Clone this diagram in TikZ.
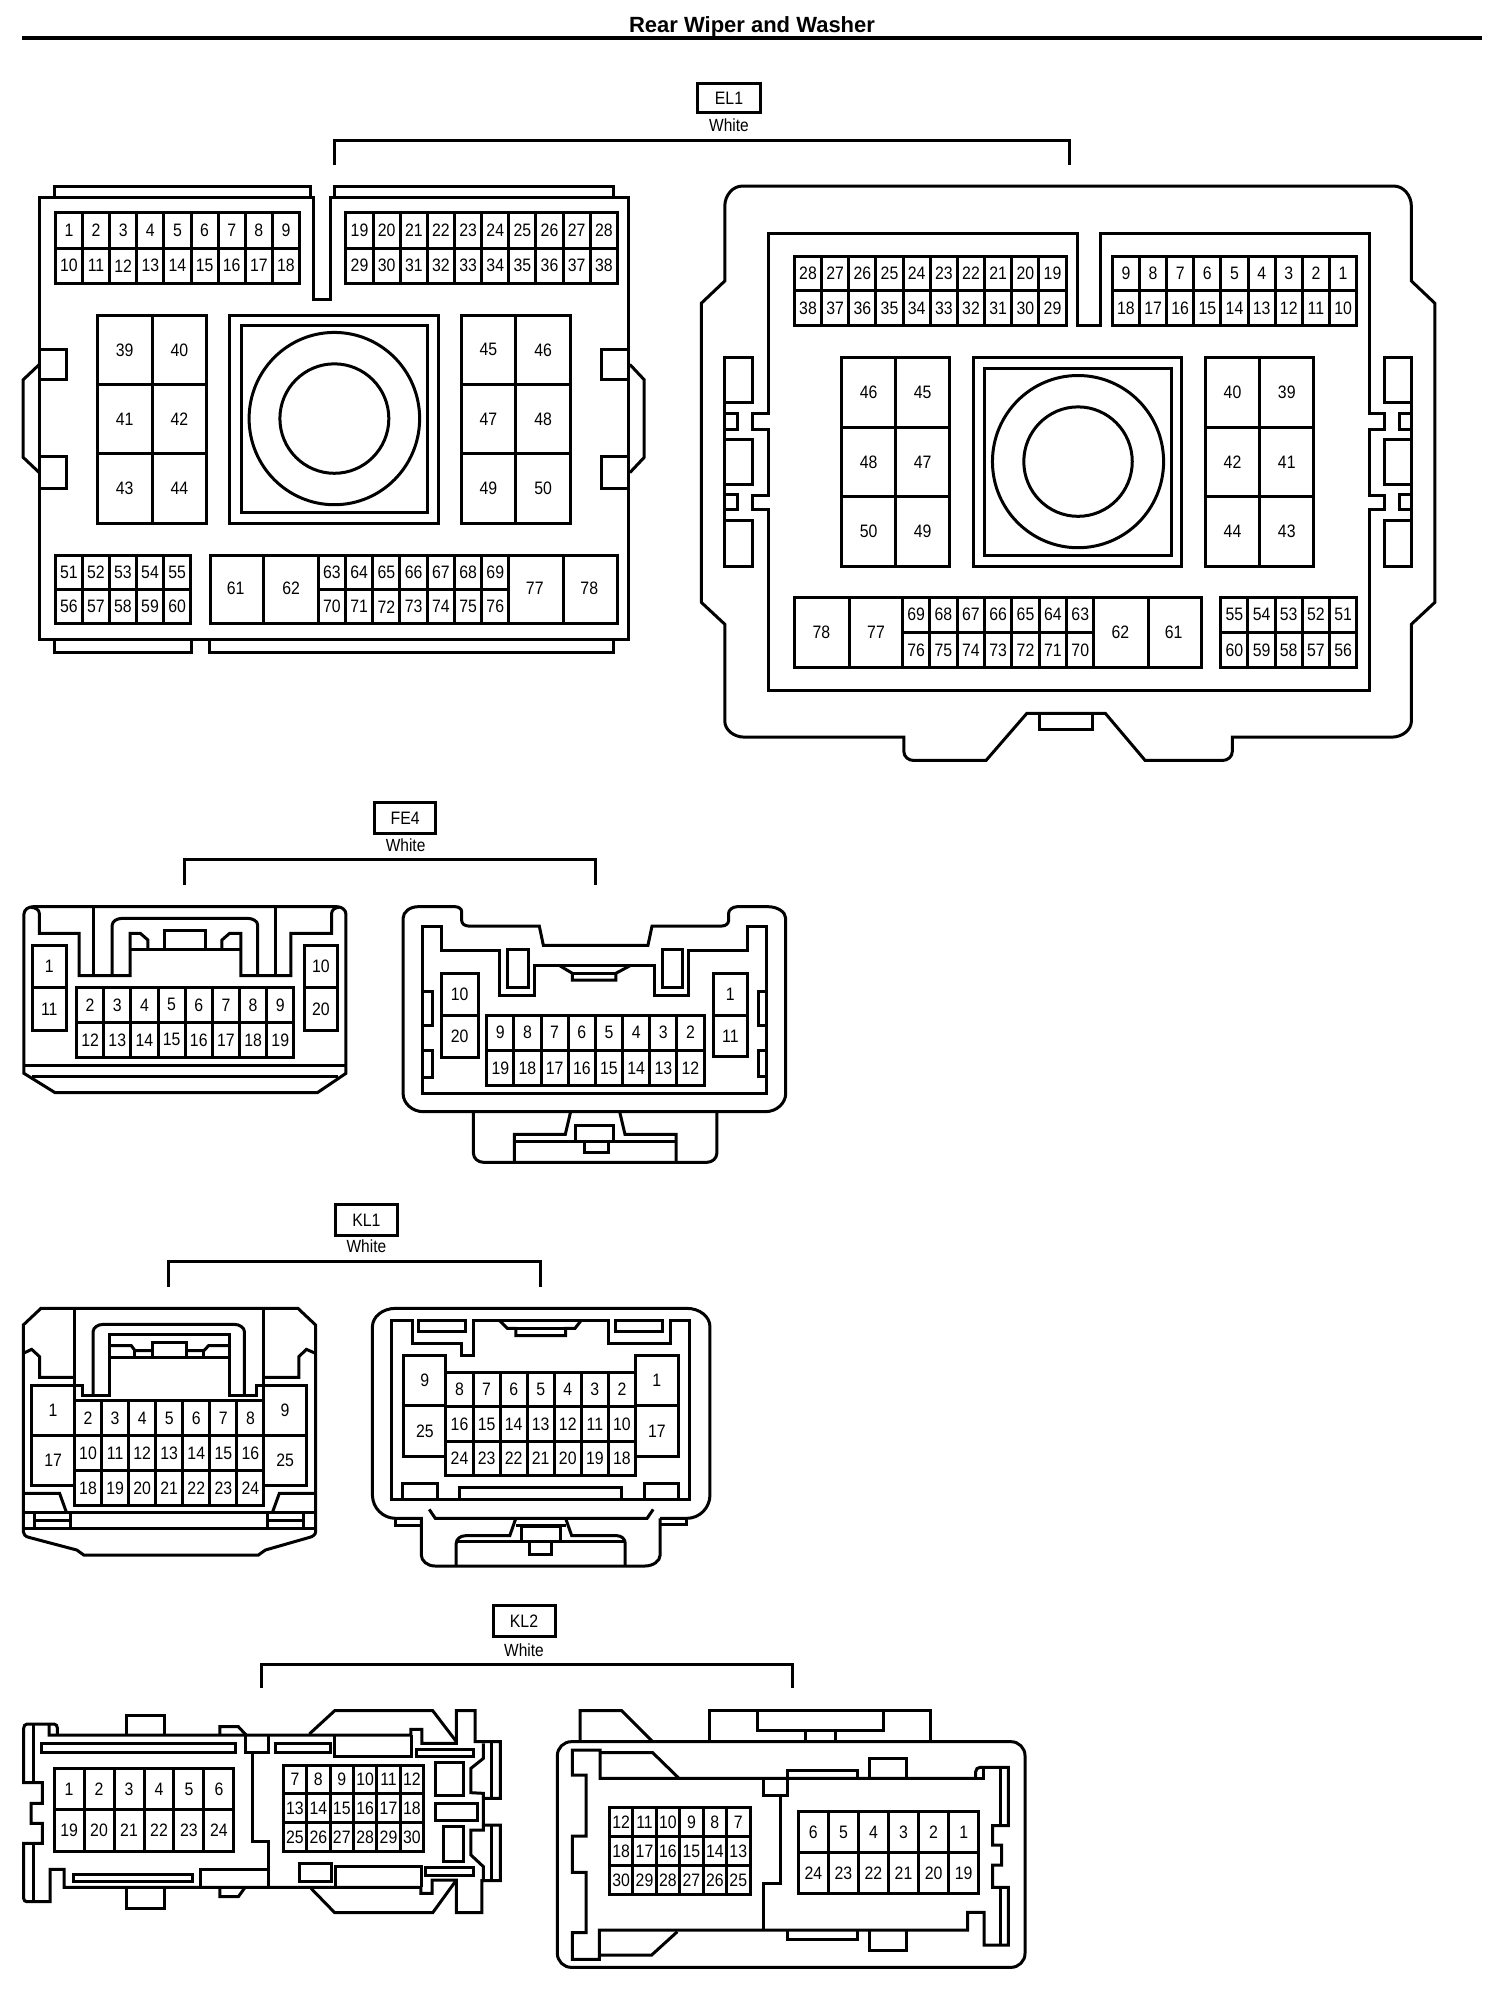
\documentclass[tikz,border=0pt]{standalone}
\usepackage{fontspec}
\setmainfont[FakeStretch=0.88]{Liberation Sans}
\newfontfamily\titlefont{Liberation Sans}
\newcommand\cellgrid[8]{%
  \draw (#2,#4) rectangle (#3,#5);
  \pgfmathtruncatemacro\cgcols{#6-1}%
  \pgfmathtruncatemacro\cgrows{#7-1}%
  \foreach \i in {1,...,\cgcols}{\draw ({#2+\i*(#3-#2)/#6},#4) -- ({#2+\i*(#3-#2)/#6},#5);}
  \foreach \i in {1,...,\cgrows}{\draw (#2,{#4+\i*(#5-#4)/#7}) -- (#3,{#4+\i*(#5-#4)/#7});}
  \foreach \t [count=\k from 0] in {#8}{%
    \pgfmathtruncatemacro\cgc{mod(\k,#6)}%
    \pgfmathtruncatemacro\cgr{floor(\k/#6)}%
    \node[pin] (#1-\t) at ({#2+(\cgc+.5)*(#3-#2)/#6},{#4+(\cgr+.5)*(#5-#4)/#7}) {\t};
  }}
\tikzset{
  pin/.style={inner sep=0pt,font=\fontsize{9}{9}\selectfont},
  tagbox/.style={draw,inner sep=0pt,font=\fontsize{9}{9}\selectfont},
  colour/.style={inner sep=0pt,font=\fontsize{8.8}{9}\selectfont},
}
\begin{document}
\begin{tikzpicture}[x=0.5pt,y=-0.5pt,line width=1.5pt,line join=miter,line cap=butt]
\useasboundingbox (0,0) rectangle (1504,1990);
% title
\node[inner sep=0pt] (title) at (752,27) {\fontsize{11}{12}\selectfont\titlefont\bfseries Rear Wiper and Washer};
\draw[line width=2pt] (22,38) -- (1482,38);
% tags
\node[tagbox,minimum width=31.5pt,minimum height=14.5pt] (tagEL) at (729,98) {EL1};
\node[colour] (whiteEL) at (729,125) {White};
\draw (334,165) -- (334,141) -- (1069,141) -- (1069,165);

%% ===== EL1 left =====
\begin{scope}[shift={(0,150)},x=0.22321pt,y=-0.16892pt]
\draw (88,142) -- (703,142) -- (703,442) -- (741,442) -- (741,142) -- (1408,142) -- (1408,1450) -- (88,1450) -- cycle;
\draw (123,142) -- (123,108) -- (695,108) -- (695,142);
\draw (749,142) -- (749,108) -- (1375,108) -- (1375,142);
\draw (123,1450) -- (123,1487) -- (428,1487) -- (428,1450);
\draw (470,1450) -- (470,1487) -- (1375,1487) -- (1375,1450);
\draw (88,590) -- (150,590) -- (150,680) -- (88,680);
\draw (88,908) -- (150,908) -- (150,1003) -- (88,1003);
\draw (1408,592) -- (1347,592) -- (1347,680) -- (1408,680);
\draw (1408,908) -- (1347,908) -- (1347,1003) -- (1408,1003);
\draw (88,635) -- (52,680) -- (52,910) -- (88,955);
\draw (1411,635) -- (1443,680) -- (1443,910) -- (1411,955);
\cellgrid{ela}{124}{671}{186}{395}{9}{2}{1,2,3,4,5,6,7,8,9,10,11,12,13,14,15,16,17,18}
\cellgrid{ela}{775}{1383}{186}{395}{10}{2}{19,20,21,22,23,24,25,26,27,28,29,30,31,32,33,34,35,36,37,38}
\cellgrid{ela}{218}{463}{489}{1105}{2}{3}{39,40,41,42,43,44}
\cellgrid{ela}{1033}{1278}{489}{1105}{2}{3}{45,46,47,48,49,50}
\draw (514,489) rectangle (983,1105);
\draw (541,519) rectangle (958,1073);
\draw (749,795) ellipse [x radius=191,y radius=255];
\draw (749,795) ellipse [x radius=122,y radius=162];
\cellgrid{ela}{124}{427}{1199}{1403}{5}{2}{51,52,53,54,55,56,57,58,59,60}
\draw (471,1199) rectangle (1383,1403);
\draw (590,1199) -- (590,1403);
\draw (1263,1199) -- (1263,1403);
\cellgrid{ela}{713}{1140}{1199}{1403}{7}{2}{63,64,65,66,67,68,69,70,71,72,73,74,75,76}
\node[pin] (ela-61) at (528,1298) {61};
\node[pin] (ela-62) at (652,1298) {62};
\node[pin] (ela-77) at (1198,1298) {77};
\node[pin] (ela-78) at (1320,1298) {78};
\end{scope}

%% ===== EL1 right =====
\begin{scope}[shift={(680,170)},x=0.24876pt,y=-0.19135pt]
\draw (125,42) -- (1435,42) .. controls (1454,42) and (1470,66) .. (1470,95) -- (1470,290) -- (1517,348) -- (1517,1130) -- (1470,1187) -- (1470,1440) .. controls (1470,1463) and (1452,1482) .. (1430,1482) -- (1110,1482) -- (1110,1520) .. controls (1110,1533) and (1101,1543) .. (1090,1543) -- (935,1543) -- (855,1420) -- (697,1420) -- (615,1543) -- (470,1543) .. controls (459,1543) and (450,1533) .. (450,1520) -- (450,1482) -- (130,1482) .. controls (108,1482) and (90,1463) .. (90,1440) -- (90,1187) -- (43,1130) -- (43,348) -- (90,290) -- (90,95) .. controls (90,66) and (106,42) .. (125,42) -- cycle;
\draw (177,167) -- (799,167) -- (799,406) -- (845,406) -- (845,167) -- (1385,167) -- (1385,635) -- (1415,635) -- (1415,677) -- (1385,677) -- (1385,850) -- (1415,850) -- (1415,888) -- (1385,888) -- (1385,1360) -- (177,1360) -- (177,888) -- (145,888) -- (145,850) -- (177,850) -- (177,677) -- (145,677) -- (145,635) -- (177,635) -- cycle;
\draw (90,490) rectangle (145,608);
\draw (90,703) rectangle (145,823);
\draw (90,915) rectangle (145,1035);
\draw (90,608) -- (90,915);
\draw (90,635) rectangle (115,677);
\draw (90,848) rectangle (115,888);
\draw (1415,490) rectangle (1470,608);
\draw (1415,703) rectangle (1470,823);
\draw (1415,915) rectangle (1470,1035);
\draw (1470,608) -- (1470,915);
\draw (1447,635) rectangle (1470,677);
\draw (1447,848) rectangle (1470,888);
\cellgrid{elb}{230}{776}{225}{406}{10}{2}{28,27,26,25,24,23,22,21,20,19,38,37,36,35,34,33,32,31,30,29}
\cellgrid{elb}{869}{1360}{225}{406}{9}{2}{9,8,7,6,5,4,3,2,1,18,17,16,15,14,13,12,11,10}
\cellgrid{elb}{325}{542}{490}{1036}{2}{3}{46,45,48,47,50,49}
\cellgrid{elb}{1056}{1274}{490}{1036}{2}{3}{40,39,42,41,44,43}
\draw (590,490) rectangle (1008,1036);
\draw (612,519) rectangle (988,1007);
\draw (800,762) ellipse [x radius=172,y radius=225];
\draw (800,762) ellipse [x radius=109,y radius=143];
\draw (230,1116) rectangle (1048,1300);
\draw (340,1116) -- (340,1300);
\draw (941,1116) -- (941,1300);
\cellgrid{elb}{447}{832}{1116}{1300}{7}{2}{69,68,67,66,65,64,63,76,75,74,73,72,71,70}
\node[pin] (elb-78) at (284,1207) {78};
\node[pin] (elb-77) at (394,1207) {77};
\node[pin] (elb-62) at (885,1207) {62};
\node[pin] (elb-61) at (992,1207) {61};
\cellgrid{elb}{1087}{1360}{1116}{1300}{5}{2}{55,54,53,52,51,60,59,58,57,56}
\draw (722,1420) -- (722,1462) -- (830,1462) -- (830,1420);
\end{scope}

%% ===== FE4 =====
\begin{scope}[shift={(0,790)},x=0.25510pt,y=-0.16667pt]
\node[tagbox,minimum width=30.5pt,minimum height=15.5pt] (tagFE) at (794,84) {FE4};
\node[colour] (whiteFE) at (795,165) {White};
\draw (362,285) -- (362,208) -- (1167,208) -- (1167,285);
% left
\draw (65,350) -- (660,350) .. controls (670,350) and (678,360) .. (678,372) -- (678,850) -- (622,908) -- (108,908) -- (47,850) -- (47,372) .. controls (47,360) and (55,350) .. (65,350) -- cycle;
\draw (47,826) -- (678,826);
\draw (62,860) -- (662,860);
\draw (60,352) .. controls (70,352) and (77,360) .. (77,370) -- (77,430) -- (155,430) -- (155,557) -- (255,557) -- (255,430) -- (275,430) -- (290,450) -- (290,478);
\draw (255,478) -- (472,478);
\draw (435,478) -- (435,450) -- (450,430) -- (472,430) -- (472,557) -- (570,557) -- (570,430) -- (650,430) -- (650,370) .. controls (650,360) and (657,352) .. (665,352);
\draw (322,478) -- (322,420) -- (403,420) -- (403,478);
\draw (220,557) -- (220,405) .. controls (220,394) and (229,385) .. (240,385) -- (485,385) .. controls (496,385) and (505,394) .. (505,405) -- (505,557);
\draw (183,350) -- (183,557);
\draw (540,350) -- (540,557);
\cellgrid{fea}{63}{130}{466}{720}{1}{2}{1,11}
\cellgrid{fea}{596}{662}{466}{720}{1}{2}{10,20}
\cellgrid{fea}{150}{576}{592}{802}{8}{2}{2,3,4,5,6,7,8,9,12,13,14,15,16,17,18,19}
% right
\draw (820,350) .. controls (803,350) and (790,366) .. (790,385) -- (790,910) .. controls (790,940) and (808,965) .. (830,965) -- (1500,965) .. controls (1522,965) and (1540,940) .. (1540,910) -- (1540,385) .. controls (1540,366) and (1524,350) .. (1505,350) -- (1445,350) .. controls (1436,350) and (1428,360) .. (1428,370) -- (1428,392) .. controls (1428,401) and (1422,408) .. (1415,408) -- (1278,408) -- (1270,466) -- (1065,466) -- (1057,408) -- (918,408) .. controls (911,408) and (905,401) .. (905,392) -- (905,365) .. controls (905,357) and (899,350) .. (892,350) -- cycle;
\draw (828,408) -- (865,408) -- (865,480) -- (980,480) -- (980,617) -- (1048,617) -- (1048,525) -- (1283,525) -- (1283,617) -- (1350,617) -- (1350,480) -- (1465,480) -- (1465,408) -- (1503,408) -- (1503,910) -- (828,910) -- cycle;
\draw (995,478) rectangle (1035,592);
\draw (1298,478) rectangle (1338,592);
\draw (1097,527) -- (1122,550) -- (1122,570) -- (1207,570) -- (1207,550) -- (1235,527);
\draw (1122,550) -- (1207,550);
\cellgrid{feb}{865}{937}{550}{802}{1}{2}{10,20}
\cellgrid{feb}{1398}{1465}{550}{800}{1}{2}{1,11}
\cellgrid{feb}{954}{1380}{675}{887}{8}{2}{9,8,7,6,5,4,3,2,19,18,17,16,15,14,13,12}
\draw (830,605) -- (847,605) -- (847,707) -- (830,707);
\draw (830,780) -- (847,780) -- (847,862) -- (830,862);
\draw (1503,605) -- (1487,605) -- (1487,707) -- (1503,707);
\draw (1503,782) -- (1487,782) -- (1487,860) -- (1503,860);
\draw (928,965) -- (928,1090) .. controls (928,1105) and (937,1117) .. (948,1117) -- (1385,1117) .. controls (1396,1117) and (1405,1105) .. (1405,1090) -- (1405,965);
\draw (1008,1117) -- (1008,1033) -- (1108,1033) -- (1118,968);
\draw (1215,968) -- (1225,1033) -- (1325,1033) -- (1325,1117);
\draw (1008,1053) -- (1325,1053);
\draw (1128,1053) -- (1128,1005) -- (1202,1005) -- (1202,1053);
\draw (1145,1053) -- (1145,1088) -- (1192,1088) -- (1192,1053);
\end{scope}

%% ===== KL1 =====
\begin{scope}[shift={(0,1190)},x=0.23277pt,y=-0.16667pt]
\node[tagbox,minimum width=31pt,minimum height=15.5pt] (tagKLa) at (787,90) {KL1};
\node[colour] (whiteKLa) at (787,170) {White};
\draw (363,290) -- (363,215) -- (1162,215) -- (1162,290);
% left
\draw (88,355) -- (640,355) -- (678,405) -- (678,1025) .. controls (678,1033) and (672,1040) .. (665,1042) -- (570,1080) -- (555,1095) -- (180,1095) -- (165,1080) -- (62,1042) .. controls (55,1040) and (50,1033) .. (50,1025) -- (50,405) -- cycle;
\draw (160,358) -- (160,632);
\draw (567,358) -- (567,632);
\draw (50,490) -- (68,478) -- (85,500) -- (85,562) -- (160,562);
\draw (678,490) -- (658,478) -- (642,500) -- (642,562) -- (567,562);
\draw (160,585) -- (178,585) -- (178,617) -- (235,617) -- (235,432) -- (493,432) -- (493,617) -- (552,617) -- (552,585) -- (567,585);
\draw (200,617) -- (200,425) .. controls (200,413) and (210,403) .. (222,403) -- (503,403) .. controls (515,403) and (525,413) .. (525,425) -- (525,617);
\draw (235,467) -- (282,467) -- (290,482) -- (328,482);
\draw (235,503) -- (493,503);
\draw (328,503) -- (328,456) -- (400,456) -- (400,503);
\draw (400,482) -- (438,482) -- (448,467) -- (493,467);
\draw (288,482) -- (288,503);
\draw (438,482) -- (438,503);
\cellgrid{kla}{68}{160}{587}{885}{1}{2}{1,17}
\cellgrid{kla}{567}{658}{587}{885}{1}{2}{9,25}
\cellgrid{kla}{160}{567}{632}{946}{7}{3}{2,3,4,5,6,7,8,10,11,12,13,14,15,16,18,19,20,21,22,23,24}
\draw (50,910) -- (128,910) -- (143,968);
\draw (678,910) -- (600,910) -- (585,968);
\draw (50,968) -- (678,968);
\draw (50,1015) -- (678,1015);
\draw (75,968) -- (75,1015);
\draw (152,968) -- (152,1015);
\draw (75,990) -- (152,990);
\draw (575,968) -- (575,1015);
\draw (652,968) -- (652,1015);
\draw (575,990) -- (652,990);
% right
\draw (850,985) .. controls (822,985) and (800,953) .. (800,915) -- (800,410) .. controls (800,380) and (822,355) .. (850,355) -- (1475,355) .. controls (1503,355) and (1525,380) .. (1525,410) -- (1525,915) .. controls (1525,953) and (1503,985) .. (1475,985) -- (1418,985);
\draw (850,985) -- (850,1005) -- (905,1005);
\draw (850,985) -- (905,985) -- (905,1095) .. controls (905,1113) and (918,1128) .. (935,1128) -- (1385,1128) .. controls (1403,1128) and (1418,1113) .. (1418,1095) -- (1418,985);
\draw (1475,985) -- (1475,1003) -- (1418,1003);
\draw (922,958) -- (935,985) -- (1390,985) -- (1403,958);
\draw (840,392) -- (885,392) -- (885,460) -- (992,460) -- (992,497) -- (1017,497) -- (1017,392) -- (1308,392) -- (1308,460) -- (1440,460) -- (1440,392) -- (1482,392) -- (1482,928) -- (840,928) -- cycle;
\draw (1073,392) -- (1090,415) -- (1108,415) -- (1108,437) -- (1215,437) -- (1215,415) -- (1235,415) -- (1248,392);
\draw (1108,415) -- (1215,415);
\draw (900,392) rectangle (1000,425);
\draw (1323,392) rectangle (1423,425);
\cellgrid{klb}{867}{958}{497}{798}{1}{2}{9,25}
\cellgrid{klb}{1365}{1457}{497}{798}{1}{2}{1,17}
\cellgrid{klb}{958}{1365}{547}{857}{7}{3}{8,7,6,5,4,3,2,16,15,14,13,12,11,10,24,23,22,21,20,19,18}
\draw (865,928) -- (865,880) -- (940,880) -- (940,928);
\draw (988,928) -- (988,892) -- (1335,892) -- (1335,928);
\draw (1385,928) -- (1385,880) -- (1458,880) -- (1458,928);
\draw (980,1125) -- (980,1060) .. controls (980,1047) and (989,1037) .. (1000,1037) -- (1095,1037) -- (1108,985);
\draw (1215,985) -- (1228,1037) -- (1325,1037) .. controls (1335,1037) and (1343,1047) .. (1343,1060) -- (1343,1125);
\draw (980,1055) -- (1120,1055);
\draw (1205,1055) -- (1343,1055);
\draw (1120,1008) rectangle (1205,1055);
\draw (1138,1055) -- (1138,1093) -- (1185,1093) -- (1185,1055);
\draw (1108,1005) -- (1215,1005);
\end{scope}

%% ===== KL2 =====
\node[tagbox,minimum width=31pt,minimum height=15.5pt] (tagKLb) at (524,1621) {KL2};
\node[colour] (whiteKLb) at (524,1650) {White};
\draw (261,1688) -- (261,1664) -- (792,1664) -- (792,1688);
\begin{scope}[shift={(0,1630)},x=0.16903pt,y=-0.16667pt]
\draw (145,282) -- (145,315) -- (1215,315) -- (1215,298) -- (1248,298) -- (1248,340) -- (1350,340) -- (1350,242) -- (1405,242) -- (1405,335) -- (1480,335) -- (1480,505) -- (1430,505) -- (1430,585) -- (1480,585) -- (1480,752) -- (1425,752) -- (1425,848) -- (1350,848) -- (1350,750) -- (1278,750) -- (1278,790) -- (1245,790) -- (1245,772) -- (190,772) -- (190,718) -- (148,718) -- (148,815) -- (80,815) .. controls (74,815) and (70,811) .. (70,805) -- (70,640) -- (125,640) -- (125,580) -- (92,580) -- (92,520) -- (125,520) -- (125,458) -- (70,458) -- (70,295) .. controls (70,288) and (74,282) .. (80,282) -- (160,282) .. controls (166,282) and (170,288) .. (170,295) -- (170,315);
\draw (98,285) -- (98,455);
\draw (98,642) -- (98,815);
\draw (375,315) -- (375,255) -- (487,255) -- (487,315);
\draw (375,772) -- (375,835) -- (487,835) -- (487,772);
\draw (122,340) rectangle (697,368);
\draw (217,732) rectangle (568,755);
\draw (650,315) -- (650,290) -- (705,290) -- (728,315);
\draw (650,772) -- (650,800) -- (705,800) -- (725,772);
\draw (725,315) -- (725,367) -- (795,367) -- (795,315);
\draw (748,367) -- (748,633) -- (795,633) -- (795,772);
\draw (592,772) -- (592,718) -- (795,718);
\draw (815,340) rectangle (978,367);
\draw (990,315) -- (990,380) -- (1218,380) -- (1218,315);
\draw (915,312) -- (990,242) -- (1280,242) -- (1350,335);
\draw (920,775) -- (990,848) -- (1280,848) -- (1350,750);
\draw (1232,357) rectangle (1402,378);
\draw (1260,712) rectangle (1402,735);
\draw (885,700) rectangle (980,755);
\draw (992,772) -- (992,708) -- (1248,708) -- (1248,772);
\draw (1287,397) rectangle (1372,497);
\draw (1287,520) rectangle (1413,570);
\draw (1312,590) rectangle (1372,693);
\draw (1430,340) -- (1430,385) -- (1393,415) -- (1393,488) -- (1430,490) -- (1430,505);
\draw (1430,585) -- (1430,600) -- (1393,600) -- (1393,675) -- (1430,710) -- (1430,752);
\draw (1455,335) -- (1455,505);
\draw (1455,585) -- (1455,752);
\cellgrid{kma}{160}{692}{415}{663}{6}{2}{1,2,3,4,5,6,19,20,21,22,23,24}
\cellgrid{kma}{838}{1253}{405}{665}{6}{3}{7,8,9,10,11,12,13,14,15,16,17,18,25,26,27,28,29,30}
\end{scope}
\begin{scope}[shift={(540,1680)},x=0.16667pt,y=-0.16667pt]
\draw[rounded corners=7pt] (52,185) rectangle (1455,862);
\draw (120,185) -- (120,92) -- (245,92) -- (338,185);
\draw (508,185) -- (508,92) -- (1172,92) -- (1172,185);
\draw (652,92) -- (652,150) -- (1030,150) -- (1030,92);
\draw (797,150) -- (797,185);
\draw (885,150) -- (885,185);
\draw (97,210) -- (97,285) -- (138,285) -- (138,468) -- (97,468) -- (97,577) -- (138,577) -- (138,758) -- (97,758) -- (97,838) -- (178,838) -- (178,750) -- (1283,750) -- (1283,697) -- (1332,697) -- (1332,795) -- (1405,795) -- (1405,622) -- (1358,622) -- (1358,555) -- (1385,555) -- (1385,495) -- (1358,495) -- (1358,437) -- (1405,437) -- (1405,262) -- (1320,262) .. controls (1313,262) and (1307,268) .. (1307,275) -- (1307,295) -- (180,295) -- (180,210) -- cycle;
\draw (1330,262) -- (1330,295) -- (1307,295);
\draw (1382,262) -- (1382,437);
\draw (1382,622) -- (1382,795);
\draw (180,218) -- (338,218) -- (415,293);
\draw (180,825) -- (335,825) -- (412,755);
\draw (670,295) -- (670,347) -- (742,347) -- (742,295);
\draw (720,347) -- (720,610) -- (670,610) -- (670,750);
\draw (742,297) -- (742,270) -- (953,270) -- (953,295);
\draw (988,295) -- (988,235) -- (1100,235) -- (1100,295);
\draw (742,750) -- (742,778) -- (953,778) -- (953,750);
\draw (988,750) -- (988,812) -- (1100,812) -- (1100,750);
\cellgrid{kmb}{208}{630}{382}{644}{6}{3}{12,11,10,9,8,7,18,17,16,15,14,13,30,29,28,27,26,25}
\cellgrid{kmb}{775}{1316}{395}{640}{6}{2}{6,5,4,3,2,1,24,23,22,21,20,19}
\end{scope}
\end{tikzpicture}
\end{document}
